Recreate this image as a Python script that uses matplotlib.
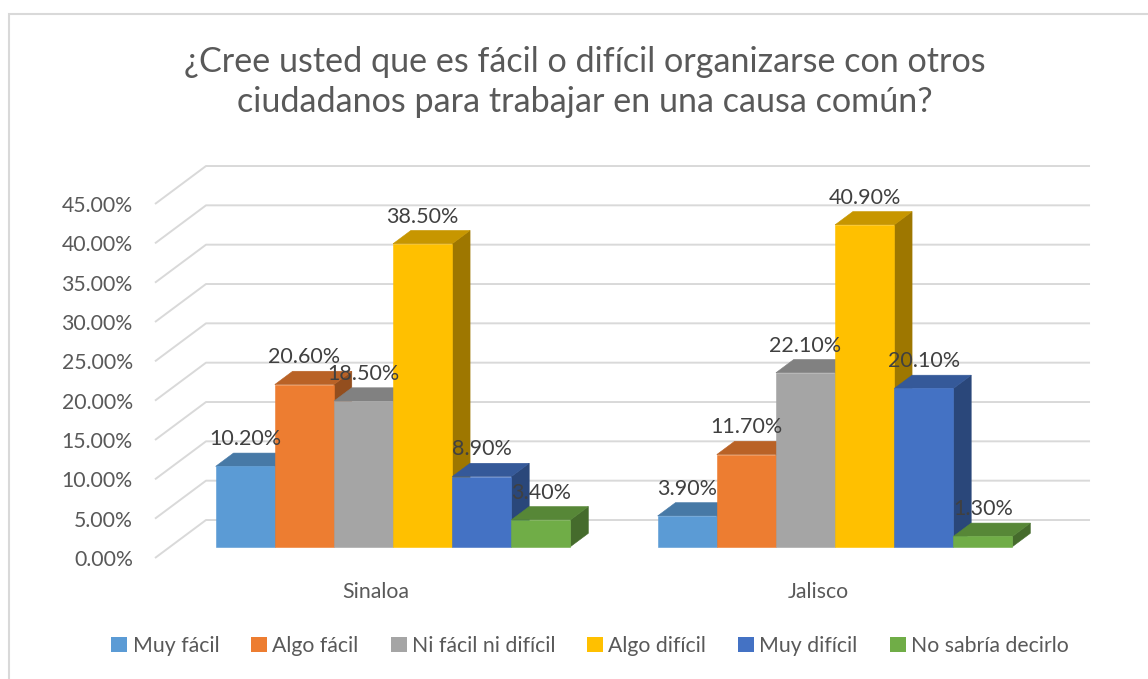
import numpy as np
import matplotlib.pyplot as plt
from matplotlib.patches import Polygon, Rectangle, Patch
import matplotlib.colors as mcolors

plt.rcParams['font.family'] = ['Lato', 'DejaVu Sans']

states = ['Sinaloa', 'Jalisco']
answers = ['Muy fácil', 'Algo fácil', 'Ni fácil ni difícil', 'Algo difícil',
           'Muy difícil', 'No sabría decirlo']
sinaloa = [10.2, 20.6, 18.5, 38.5, 8.9, 3.4]
jalisco = [3.9, 11.7, 22.1, 40.9, 20.1, 1.3]
colors = ['#5B9BD5', '#ED7D31', '#A5A5A5', '#FFC000', '#4472C4', '#70AD47']
yticks = np.arange(0, 50, 5)

# fake 3d: depth direction of the chart wall, in data units
DX, DY = 0.1154, 4.83
T0, T1 = 0.30, 0.65   # front and back of the bars inside the depth
W = 0.1338            # bar width

grid_c = '#D9D9D9'
text_c = '#595959'


def shade(c, f):
    r, g, b = mcolors.to_rgb(c)
    return (r * f, g * f, b * f)


fig = plt.figure(figsize=(11.48, 6.79), dpi=100)
ax = fig.add_axes([155 / 1148, 1 - 558 / 679, 884 / 1148, 354 / 679])
ax.set_xlim(0, 2)
ax.set_ylim(0, 45)
for s in ax.spines.values():
    s.set_visible(False)

# wall gridlines
for v in yticks:
    ax.plot([0, DX, 2 + DX], [v, v + DY, v + DY], color=grid_c, lw=1.4,
            clip_on=False, zorder=1, solid_capstyle='butt')

# bars
z = 2
for i, vals in enumerate([sinaloa, jalisco]):
    start = i + 0.5 - 3 * W + 0.004
    for j, v in enumerate(vals):
        xl = start + j * W + T0 * DX
        xr = xl + W
        yb = T0 * DY
        yt = v + T0 * DY
        bdx = (T1 - T0) * DX
        bdy = (T1 - T0) * DY
        c = colors[j]
        side = Polygon([(xr, yb), (xr, yt), (xr + bdx, yt + bdy), (xr + bdx, yb + bdy)],
                       closed=True, fc=shade(c, 0.62), ec=shade(c, 0.62), lw=0.4,
                       clip_on=False, zorder=z)
        top = Polygon([(xl, yt), (xr, yt), (xr + bdx, yt + bdy), (xl + bdx, yt + bdy)],
                      closed=True, fc=shade(c, 0.78), ec=shade(c, 0.78), lw=0.4,
                      clip_on=False, zorder=z)
        front = Rectangle((xl, yb), W, v, fc=c, ec=c, lw=0.4, clip_on=False, zorder=z + 0.5)
        ax.add_patch(side)
        ax.add_patch(top)
        ax.add_patch(front)
        z += 1
        ax.annotate(f'{v:.2f}%', xy=(xl + W / 2, yt + bdy), xytext=(0, 10),
                    textcoords='offset points', ha='center', va='center',
                    color='#404040', fontsize=15.5, zorder=100)

ax.set_yticks(yticks)
ax.set_yticklabels([f'{v:.2f}%' for v in yticks])
ax.set_xticks([0.5, 1.5])
ax.set_xticklabels(states)
ax.tick_params(axis='y', length=0, pad=16, labelsize=15.3, labelcolor=text_c)
ax.tick_params(axis='x', length=0, pad=17, labelsize=15.3, labelcolor=text_c)

fig.text(585 / 1148, 1 - 82 / 679,
         '¿Cree usted que es fácil o difícil organizarse con otros\n'
         'ciudadanos para trabajar en una causa común?',
         ha='center', va='center', fontsize=24.6, color=text_c, linespacing=1.27)

handles = [Patch(facecolor=c, edgecolor='none', label=a) for c, a in zip(colors, answers)]
fig.legend(handles=handles, ncol=6, loc='center', bbox_to_anchor=(590 / 1148, 1 - 646 / 679),
           frameon=False, fontsize=15.3, labelcolor=text_c, handlelength=0.75,
           handleheight=0.75, handletextpad=0.25, columnspacing=1.5)

# chart border
fig.patches.append(Rectangle((9 / 1148, -0.05), 1.2, 1 - 14 / 679 + 0.05,
                             transform=fig.transFigure, fill=False, ec=grid_c, lw=1.5))

fig.savefig('out.png', dpi=100, facecolor='white')
